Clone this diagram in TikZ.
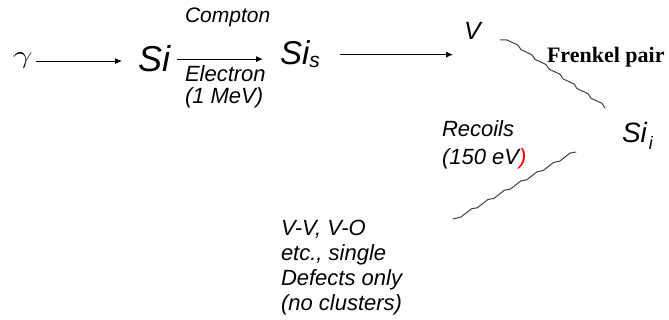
\documentclass[tikz,border=0pt]{standalone}
\usepackage{fontspec}
\setmainfont{Liberation Sans}
\newfontfamily\tnrfont{Liberation Serif}
\usetikzlibrary{arrows.meta,calc}
\begin{document}
\begin{tikzpicture}[x=1pt,y=-1pt,
  lbl/.style={inner sep=0pt,outer sep=0pt,anchor=base west,font=\itshape\fontsize{22}{25}\selectfont,align=left},
  multi/.style={lbl,anchor=north west},
  arr/.style={-{Latex[length=7pt,width=6pt]},line width=0.8pt},
  wigline/.style={draw=black!75,line width=1pt,line join=round,line cap=round}]
\useasboundingbox (0,0) rectangle (669,320);
% nodes
\node[lbl,font=\fontsize{28}{28}\selectfont] (g) at (13,64) {\scalebox{1.4}[1]{$\gamma$}};
\node[lbl,font=\itshape\fontsize{36}{36}\selectfont] (si) at (138,72) {Si};
\node[lbl,font=\itshape\fontsize{33}{33}\selectfont] (sis) at (280,65) {Si\raisebox{-3pt}{\fontsize{21}{21}\selectfont s}};
\node[lbl,font=\itshape\fontsize{25}{25}\selectfont] (v) at (464,40) {V};
\node[lbl,font=\itshape\fontsize{28}{28}\selectfont] (sii) at (622,143) {Si\hspace{2pt}\raisebox{-7pt}{\fontsize{18}{18}\selectfont i}};
\node[lbl,font=\tnrfont\bfseries\fontsize{22}{22}\selectfont] (fp) at (547,63) {Frenkel pair};
\node[lbl,font=\itshape\fontsize{21}{21}\selectfont] (compton) at (185,23) {Compton};
\node[multi,font=\itshape\fontsize{22}{22}\selectfont] (elec) at (185,66) {Electron\\(1 MeV)};
\node[multi,font=\itshape\fontsize{22}{28}\selectfont] (rec) at (442,121) {Recoils\\(150 eV\textcolor{red}{)}};
\node[multi,font=\itshape\fontsize{22}{25}\selectfont] (defects) at (281,220) {V-V, V-O\\etc., single\\Defects only\\(no clusters)};
% arrows
\draw[arr,shorten <=3pt,shorten >=16pt] (g.east) -- (g.east -| si.west);
\draw[arr,shorten <=7pt,shorten >=17pt] (si.east) -- (si.east -| sis.west);
\draw[arr,shorten <=20pt,shorten >=11pt] (sis.east) -- (sis.east -| v.west);
% wavy lines
\coordinate (w1a) at (500,40);
\coordinate (w1b) at (507,40);
\coordinate (w1c) at (605,108);
\draw[wigline] (w1a) -- (w1b)
  \foreach \k in {0,...,6} { -- ($(w1b)!{(\k+0.7)/7}!(w1c)+(1.2,-1.7)$) -- ($(w1b)!{(\k+1)/7}!(w1c)$) };
\coordinate (w2a) at (576,152);
\coordinate (w2b) at (461,217);
\coordinate (w2c) at (453,219);
\draw[wigline] (w2a)
  \foreach \k in {0,...,6} { -- ($(w2a)!{(\k+0.3)/7}!(w2b)+(-1,-1.7)$) -- ($(w2a)!{(\k+1)/7}!(w2b)$) } -- (w2c);
\end{tikzpicture}
\end{document}
